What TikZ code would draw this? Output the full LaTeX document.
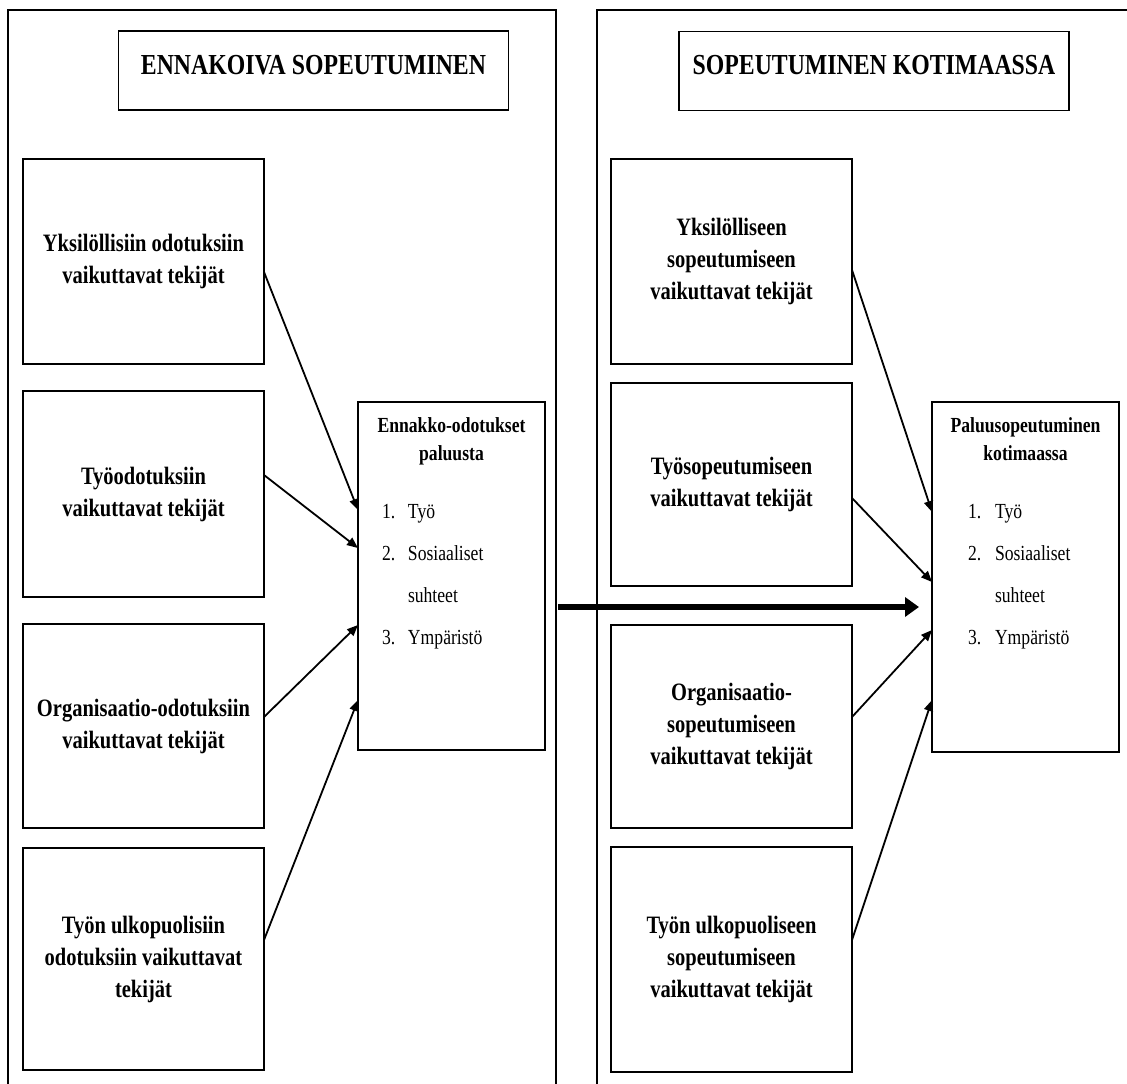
\documentclass[tikz,border=0pt]{standalone}
\usepackage{fontspec}
\setmainfont{Liberation Serif}[FakeStretch=0.82]
\usetikzlibrary{arrows.meta,calc}

% content of the two outcome boxes: bold heading, then a numbered list
\newcommand{\resultcontent}[3]{%
  \parbox[t]{187pt}{\centering\fontsize{21.5}{28}\selectfont\bfseries #1\par
    \vspace{16pt}%
    \raggedright\normalfont\fontsize{21.5}{42}\selectfont
    \hspace*{#2}\makebox[#3][l]{1.}Työ\par
    \hspace*{#2}\makebox[#3][l]{2.}Sosiaaliset\par
    \hspace*{#2}\hspace*{#3}suhteet\par
    \hspace*{#2}\makebox[#3][l]{3.}Ympäristö\par}}

\begin{document}
\begin{tikzpicture}[x=1pt,y=-1pt,
  frame/.style={line width=1.2pt},
  factor/.style={draw, line width=1.2pt, rectangle, inner sep=0pt, outer sep=0pt,
    minimum width=241pt, align=center, font=\fontsize{25}{32}\selectfont\bfseries},
  headbox/.style={draw, line width=1.2pt, inner sep=0pt, outer sep=0pt,
    minimum width=390pt, minimum height=79pt, text height=19pt, text depth=12pt,
    font=\fontsize{29}{34}\selectfont\bfseries},
  outcome/.style={draw, line width=1.2pt, inner sep=0pt, outer sep=0pt, minimum width=187pt},
  link/.style={line width=1.8pt, -{Triangle[length=11pt,width=9pt]}},
  flow/.style={line width=6pt, -{Triangle[length=14pt,width=19pt]}}
]
\useasboundingbox (0,0) rectangle (1127,1084);
\fill[white] (0,0) rectangle (1127,1084);

% the two phase panels (open at the bottom)
\draw[frame] (8,1084) -- (8,10) -- (556,10) -- (556,1084);
\draw[frame] (597,1084) -- (597,10) -- (1127,10);

% panel headings
\node[headbox] (h1) at (313.5,70.5) {ENNAKOIVA SOPEUTUMINEN};
\node[headbox] (h2) at (874,71) {SOPEUTUMINEN KOTIMAASSA};

% factors, left panel
\node[factor, minimum height=205pt] (l1) at (143.5,261.5) {Yksilöllisiin odotuksiin\\vaikuttavat tekijät};
\node[factor, minimum height=206pt] (l2) at (143.5,494) {Työodotuksiin\\vaikuttavat tekijät};
\node[factor, minimum height=204pt] (l3) at (143.5,726) {Organisaatio-odotuksiin\\vaikuttavat tekijät};
\node[factor, minimum height=222pt] (l4) at (143.5,959) {Työn ulkopuolisiin\\odotuksiin vaikuttavat\\tekijät};

% factors, right panel
\node[factor, minimum height=205pt] (r1) at (731.5,261.5) {Yksilölliseen\\sopeutumiseen\\vaikuttavat tekijät};
\node[factor, minimum height=203pt] (r2) at (731.5,484.5) {Työsopeutumiseen\\vaikuttavat tekijät};
\node[factor, minimum height=203pt] (r3) at (731.5,726.5) {Organisaatio-\\sopeutumiseen\\vaikuttavat tekijät};
\node[factor, minimum height=225pt] (r4) at (731.5,959.5) {Työn ulkopuoliseen\\sopeutumiseen\\vaikuttavat tekijät};

% outcome boxes
\node[outcome, minimum height=348pt] (e) at (451.5,576) {};
\node[outcome, minimum height=350pt] (p) at (1025.5,577) {};
\node[anchor=base, inner sep=0pt] (etext) at ([yshift=-30pt]e.north)
  {\resultcontent{Ennakko-odotukset\\paluusta}{24pt}{26pt}};
\node[anchor=base, inner sep=0pt] (ptext) at ([yshift=-30pt]p.north)
  {\resultcontent{Paluusopeutuminen\\kotimaassa}{36pt}{27pt}};

% influences
\draw[link] ([yshift=-10.5pt]l1.east) -- ([yshift=66pt]e.west);
\draw[link] ([yshift=19pt]l2.east) -- ([yshift=28pt]e.west);
\draw[link] ([yshift=9pt]l3.east) -- ([yshift=-49pt]e.west);
\draw[link] ([yshift=19pt]l4.east) -- ([yshift=-124pt]e.west);

\draw[link] ([yshift=-8.5pt]r1.east) -- ([yshift=65pt]p.west);
\draw[link] ([yshift=-13.5pt]r2.east) -- ([yshift=-5pt]p.west);
\draw[link] ([yshift=9.5pt]r3.east) -- ([yshift=-53pt]p.west);
\draw[link] ([yshift=19.5pt]r4.east) -- ([yshift=-123pt]p.west);

% transition from anticipation to home-country adjustment
\coordinate (fa) at (558,607);
\coordinate (fb) at (919,607);
\draw[flow] (fa) -- (fb);
\end{tikzpicture}
\end{document}
